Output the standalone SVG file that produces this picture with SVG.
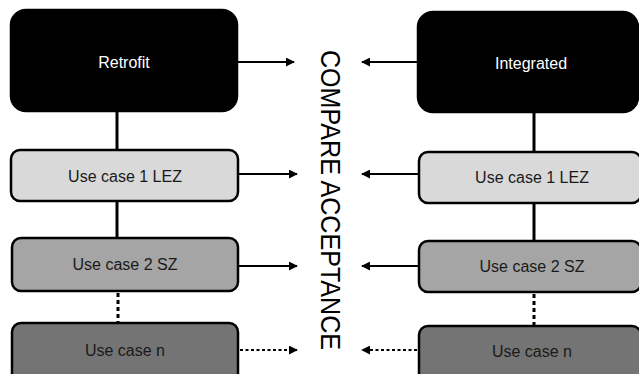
<svg xmlns="http://www.w3.org/2000/svg" width="639" height="374" viewBox="0 0 639 374">
<style>
.box{stroke:#000;stroke-width:2.5}
.dark{fill:#000}
.l1{fill:#d9d9d9}
.l2{fill:#a5a5a5}
.l3{fill:#747474}
.t{font-family:"Liberation Sans",Arial,sans-serif;font-size:16px;text-anchor:middle;dominant-baseline:central}
.tw{fill:#fff}
.tk{fill:#1a1a1a}
.c{stroke:#000;stroke-width:3;fill:none}
.a{stroke:#000;stroke-width:2;fill:none}
.d{stroke-dasharray:3 2.5}
.vd{stroke-dasharray:4 3}
</style>
<defs>
<marker id="ah" viewBox="0 0 10 10" refX="9" refY="5" markerWidth="4.5" markerHeight="4.5" orient="auto" markerUnits="strokeWidth">
<path d="M0,0 L10,5 L0,10 Z" fill="#000"/>
</marker>
</defs>
<rect width="639" height="374" fill="#fff"/>
<g id="connectors">
<line class="c" x1="117" y1="111" x2="117" y2="150"/>
<line class="c" x1="117" y1="201" x2="117" y2="238"/>
<line class="c vd" x1="118" y1="293" x2="118" y2="322"/>
<line class="c" x1="534" y1="112" x2="534" y2="152"/>
<line class="c" x1="534" y1="203" x2="534" y2="241"/>
<line class="c vd" x1="534" y1="294" x2="534" y2="325"/>
<line class="a" x1="237" y1="62" x2="294" y2="62" marker-end="url(#ah)"/>
<line class="a" x1="238" y1="174" x2="297" y2="174" marker-end="url(#ah)"/>
<line class="a" x1="238" y1="266" x2="297" y2="266" marker-end="url(#ah)"/>
<line class="a d" x1="240" y1="350" x2="297" y2="350" marker-end="url(#ah)"/>
<line class="a" x1="418" y1="62" x2="362" y2="62" marker-end="url(#ah)"/>
<line class="a" x1="419" y1="174" x2="362" y2="174" marker-end="url(#ah)"/>
<line class="a" x1="419" y1="266" x2="362" y2="266" marker-end="url(#ah)"/>
<line class="a d" x1="417" y1="350" x2="362" y2="350" marker-end="url(#ah)"/>
</g>
<g id="retrofit">
<rect class="box dark" x="11" y="10" width="226" height="101" rx="15"/>
<text class="t tw" x="124" y="62">Retrofit</text>
</g>
<g id="left-uc1">
<rect class="box l1" x="11" y="150" width="227" height="51" rx="9"/>
<text class="t tk" x="125" y="176">Use case 1 LEZ</text>
</g>
<g id="left-uc2">
<rect class="box l2" x="12" y="238" width="226" height="53" rx="9"/>
<text class="t tk" x="125" y="264">Use case 2 SZ</text>
</g>
<g id="left-ucn">
<rect class="box l3" x="12" y="323" width="226" height="60" rx="9"/>
<text class="t tk" x="125" y="350">Use case n</text>
</g>
<g id="integrated">
<rect class="box dark" x="418" y="12" width="220" height="100" rx="15"/>
<text class="t tw" x="531" y="63">Integrated</text>
</g>
<g id="right-uc1">
<rect class="box l1" x="419" y="152" width="222" height="51" rx="9"/>
<text class="t tk" x="532" y="177">Use case 1 LEZ</text>
</g>
<g id="right-uc2">
<rect class="box l2" x="419" y="241" width="222" height="51" rx="9"/>
<text class="t tk" x="532" y="266">Use case 2 SZ</text>
</g>
<g id="right-ucn">
<rect class="box l3" x="419" y="326" width="222" height="60" rx="9"/>
<text class="t tk" x="532" y="351">Use case n</text>
</g>
<g id="compare-label">
<text transform="translate(330,200) rotate(90)" font-family="'Liberation Sans',Arial,sans-serif" font-size="27" text-anchor="middle" dominant-baseline="central" fill="#000" textLength="300" lengthAdjust="spacingAndGlyphs">COMPARE ACCEPTANCE</text>
</g>
</svg>
